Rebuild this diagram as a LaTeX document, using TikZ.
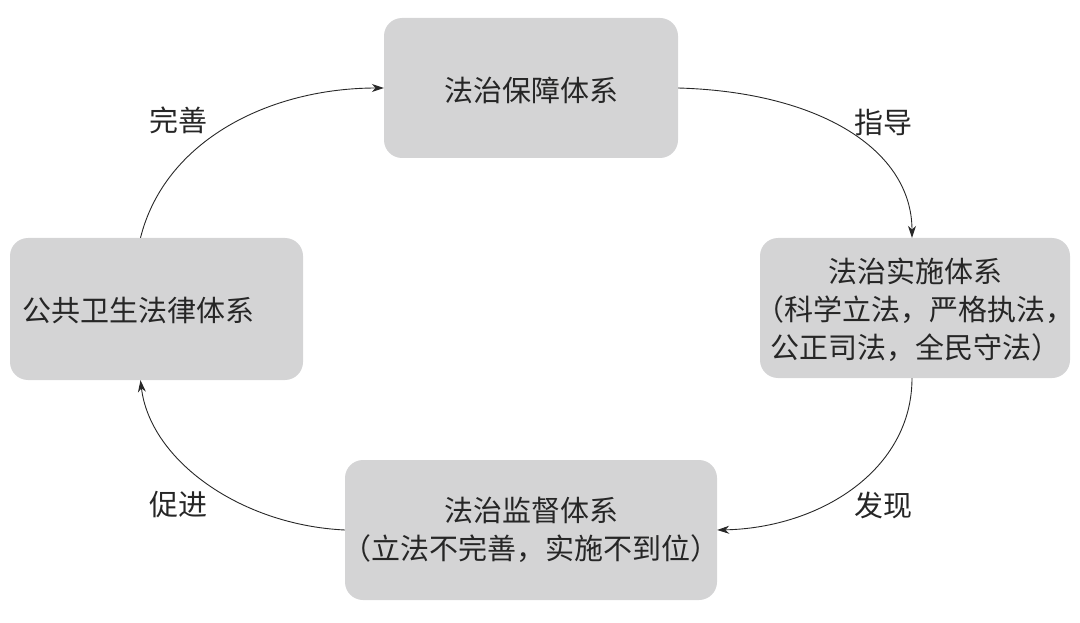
\documentclass[tikz,border=0pt]{standalone}
\usepackage{fontspec}
\newfontfamily\cjk{Noto Sans CJK SC}
\usetikzlibrary{arrows.meta,calc}
\definecolor{boxgray}{RGB}{212,212,213}
\definecolor{linegray}{RGB}{40,40,40}
\tikzset{
  box/.style={fill=boxgray,draw=none,rounded corners=18pt},
  txt/.style={font=\cjk\fontsize{29pt}{38pt}\selectfont,text=black!85,align=center,inner sep=0pt},
  lbl/.style={font=\cjk\fontsize{29pt}{38pt}\selectfont,text=black!85,inner sep=0pt},
  conn/.style={draw=linegray,line width=0.9pt,-{Stealth[length=12pt,width=8pt]}}
}
\begin{document}
\begin{tikzpicture}[x=1pt,y=-1pt]
\useasboundingbox (0,0) rectangle (1080,623);
% boxes
\path[box] (384,18) rectangle (678,158);
\node[inner sep=0pt,minimum width=294pt,minimum height=140pt] (top) at (531,88) {};
\path[box] (760,238) rectangle (1070,378);
\node[inner sep=0pt,minimum width=310pt,minimum height=140pt] (rgt) at (915,308) {};
\path[box] (10,238) rectangle (303,380);
\node[inner sep=0pt,minimum width=293pt,minimum height=142pt] (lft) at (156.5,309) {};
\path[box] (345,460) rectangle (717,600);
\node[inner sep=0pt,minimum width=372pt,minimum height=140pt] (bot) at (531,530) {};
% texts
\node[txt] (ttop) at (531,90) {法治保障体系};
\node[txt] (trgt) at (915,310) {法治实施体系\\（科学立法，严格执法，\\公正司法，全民守法）};
\node[txt,anchor=west] (tlft) at (22,310) {公共卫生法律体系};
\node[txt] (tbot) at (531,530) {法治监督体系\\（立法不完善，实施不到位）};
% connectors
\coordinate (lftS) at ($(lft.south)+(-16,0)$);
\coordinate (lftN) at ($(lft.north)+(-16,0)$);
\coordinate (rgtN) at ($(rgt.north)+(-3,0)$);
\coordinate (rgtS) at ($(rgt.south)+(-3,0)$);
\draw[conn] (top.east) .. controls (820,92) and (912,150) .. (rgtN);
\draw[conn] (rgtS) .. controls (912,470) and (820,528) .. (bot.east);
\draw[conn] (bot.west) .. controls (240,525) and (150,460) .. (lftS);
\draw[conn] (lftN) .. controls (165,140) and (270,88) .. (top.west);
% labels
\node[lbl] (l1) at (883,122) {指导};
\node[lbl] (l2) at (883,505) {发现};
\node[lbl] (l3) at (178,505) {促进};
\node[lbl] (l4) at (178,120) {完善};
\end{tikzpicture}
\end{document}
